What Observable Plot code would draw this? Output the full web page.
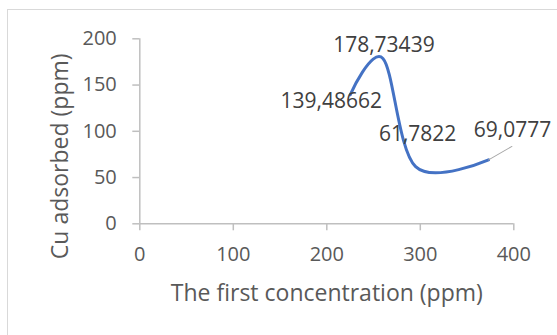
<!DOCTYPE html>
<html>
<head>
<meta charset="utf-8">
<script src="https://cdn.jsdelivr.net/npm/d3@7"></script>
<script src="https://cdn.jsdelivr.net/npm/@observablehq/plot@0.6"></script>
<style>
  html, body { margin: 0; padding: 0; background: #fff; }
  #wrap { position: relative; width: 557px; height: 335px; overflow: hidden; background: #fff; }
  #frame { position: absolute; left: 7px; top: 9px; width: 600px; height: 400px; border: 1.5px solid #d9d9d9; box-sizing: border-box; }
  #chart { position: absolute; left: 0; top: 0; }
</style>
</head>
<body>
<div id="wrap"><div id="frame"></div><div id="chart"></div></div>
<script>
// Data
const concentration = [225, 260, 295, 373];
const adsorbed = [139.48662, 178.73439, 61.7822, 69.0777];
const pointLabels = ["139,48662", "178,73439", "61,7822", "69,0777"];
const xTicks = [0, 100, 200, 300, 400];
const yTicks = [0, 50, 100, 150, 200];
const xTitle = "The first concentration (ppm)";
const yTitle = "Cu adsorbed (ppm)";

// label offsets (style only)
const labelOffsets = [[-19, 6], [1, -13], [2, -32], [24, -30]];

const data = concentration.map((x, i) => ({x, y: adsorbed[i], label: pointLabels[i]}));

const axisGray = "#bfbfbf";
const textGray = "#595959";
const font = "'Open Sans', Lato, sans-serif";

const labelMarks = data.map((d, i) => Plot.text([d], {
  x: "x", y: "y", text: "label",
  dx: labelOffsets[i][0], dy: labelOffsets[i][1],
  fill: "#404040", fontSize: 21, textAnchor: "middle", lineAnchor: "middle"
}));

const plot = Plot.plot({
  width: 557,
  height: 335,
  marginLeft: 139.3,
  marginRight: 43.7,
  marginTop: 38.3,
  marginBottom: 111.7,
  style: {fontFamily: font, fontSize: "20px", background: "transparent", overflow: "visible"},
  x: {domain: [0, 400], axis: null},
  y: {domain: [0, 200], axis: null},
  marks: [
    Plot.ruleX([0], {stroke: axisGray, strokeWidth: 1.5}),
    Plot.ruleY([0], {stroke: axisGray, strokeWidth: 1.5}),
    Plot.axisY(yTicks, {label: null, tickSize: 7, tickPadding: 16, stroke: axisGray, strokeWidth: 1.5, fill: textGray, fontSize: 20, tickFormat: d => String(d)}),
    Plot.axisX(xTicks, {label: null, tickSize: 7, tickPadding: 16, stroke: axisGray, strokeWidth: 1.5, fill: textGray, fontSize: 20, tickFormat: d => String(d)}),
    Plot.line(data, {x: "x", y: "y", curve: "cardinal", tension: 0, stroke: "#4472C4", strokeWidth: 3, strokeLinecap: "round", strokeLinejoin: "round"}),
    Plot.vector([data[data.length - 1]], {
      x: "x", y: "y", anchor: "start", length: 27, rotate: 60,
      stroke: "#a6a6a6", strokeWidth: 1,
      shape: {draw(context, l) { context.moveTo(0, 0); context.lineTo(0, -l); }}
    }),
    ...labelMarks,
    Plot.text([xTitle], {frameAnchor: "bottom", textAnchor: "middle", lineAnchor: "middle", dy: 70, fill: textGray, fontSize: 23}),
    Plot.text([yTitle], {frameAnchor: "left", textAnchor: "middle", lineAnchor: "middle", rotate: -90, dx: -79, dy: 25, fill: textGray, fontSize: 23})
  ]
});
document.getElementById("chart").appendChild(plot);
</script>
</body>
</html>
